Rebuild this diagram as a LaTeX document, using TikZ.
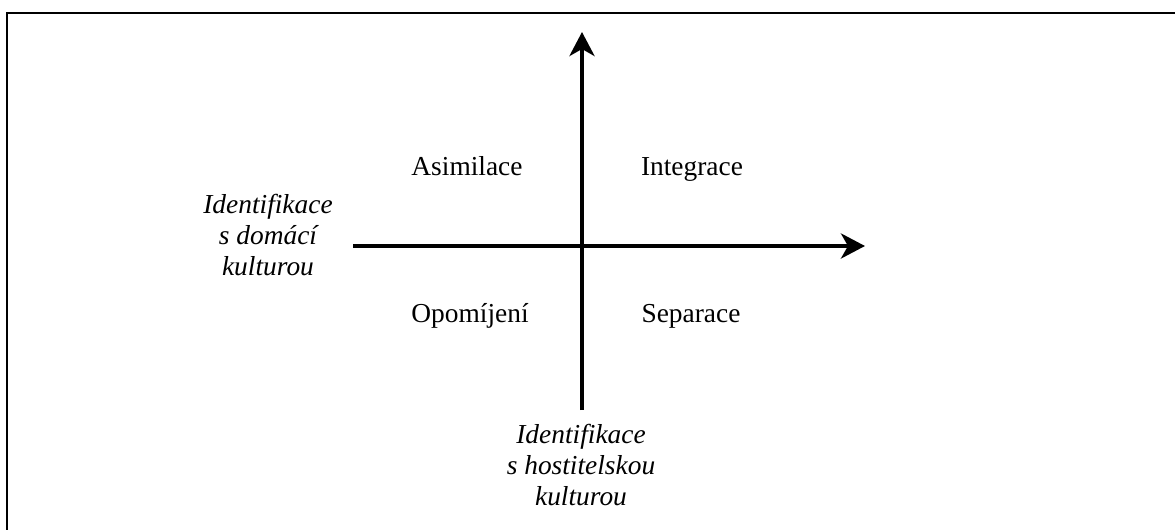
\documentclass[tikz,border=0pt]{standalone}
\usepackage{fontspec}
\setmainfont{Liberation Serif}
\usetikzlibrary{arrows.meta}

\begin{document}
\begin{tikzpicture}[x=0.5pt, y=-0.5pt,
    axis/.style={line width=2pt, -{Stealth[length=12pt, width=12.5pt, inset=3.5pt]}},
    quadrant/.style={anchor=base, inner sep=0pt, font=\fontsize{13.7}{15.5}\selectfont},
    axislabel/.style={anchor=north, inner sep=0pt, align=center, font=\fontsize{13.7}{15.5}\selectfont\itshape}]
    \useasboundingbox (0,0) rectangle (1175,530);
    \draw[line width=1pt] (1175,13) -- (7,13) -- (7,530);

    \coordinate (west) at (353,246);
    \coordinate (east) at (865,246);
    \coordinate (south) at (582,410);
    \coordinate (north) at (582,32);
    \draw[axis] (west) -- (east);
    \draw[axis] (south) -- (north);

    \foreach \x/\y/\name/\txt in {467/175/asimilace/Asimilace, 692/175/integrace/Integrace,
                                  470/322/opomijeni/Opomíjení, 691/322/separace/Separace}
             {
               \node[quadrant] (\name) at (\x,\y) {\txt};
             }

    \node[axislabel] (domaci) at (268,194) {Identifikace\\s domácí\\kulturou};
    \node[axislabel] (hostitelska) at (581,424) {Identifikace\\s hostitelskou\\kulturou};
  \end{tikzpicture}
\end{document}
